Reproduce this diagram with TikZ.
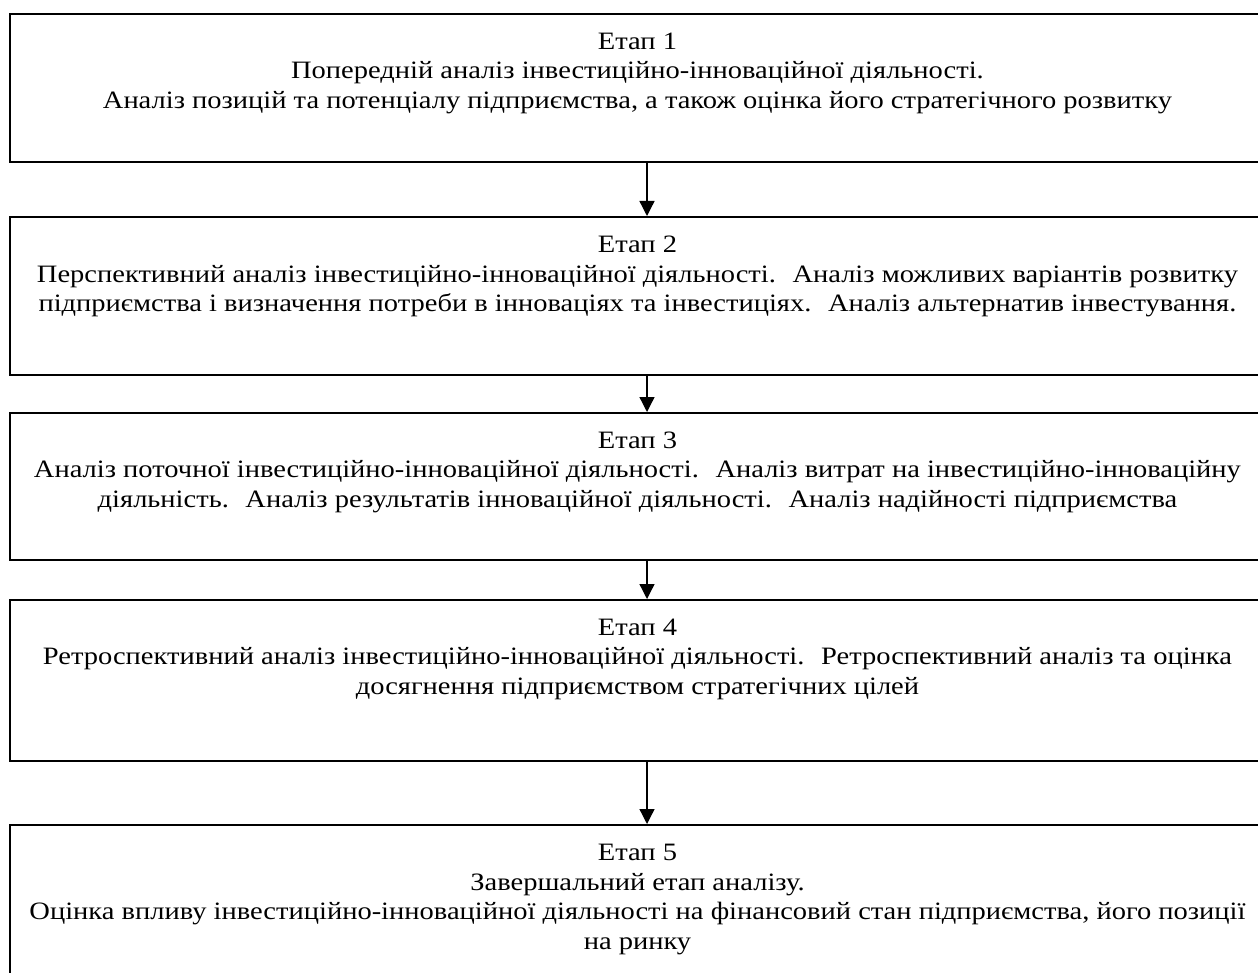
\documentclass[tikz,border=0pt]{standalone}
\usepackage{fontspec}
\setmainfont{Liberation Serif}[FakeStretch=1.14]
\usetikzlibrary{arrows.meta}
\tikzset{
  stagebox/.style={draw=black, line width=2pt, minimum width=1255pt, inner sep=0pt, anchor=north},
  stagetext/.style={align=center, anchor=north, inner sep=0pt, font=\fontsize{25pt}{29.5pt}\selectfont},
  flowarrow/.style={line width=1.3pt, -{Triangle[width=15pt,length=15pt]}}
}
\begin{document}
\begin{tikzpicture}[x=1pt,y=-1pt]
\useasboundingbox (0,0) rectangle (1258,973);
\fill[white] (0,0) rectangle (1258,973);
\node[stagebox, minimum height=148pt] (b1) at (637.5,13) {};
\node[stagebox, minimum height=158pt] (b2) at (637.5,216) {};
\node[stagebox, minimum height=147pt] (b3) at (637.5,412) {};
\node[stagebox, minimum height=161pt] (b4) at (637.5,599) {};
\node[stagebox, minimum height=180pt] (b5) at (637.5,824) {};
\node[stagetext] (t1) at (637.5,32.5) {Етап 1\\Попередній аналіз інвестиційно-інноваційної діяльності.\\Аналіз позицій та потенціалу підприємства, а також оцінка його стратегічного розвитку};
\node[stagetext] (t2) at (637.5,236) {Етап 2\\Перспективний аналіз інвестиційно-інноваційної діяльності.~ Аналіз можливих варіантів розвитку\\підприємства і визначення потреби в інноваціях та інвестиціях.~ Аналіз альтернатив інвестування.};
\node[stagetext] (t3) at (637.5,431.5) {Етап 3\\Аналіз поточної інвестиційно-інноваційної діяльності.~ Аналіз витрат на інвестиційно-інноваційну\\діяльність.~ Аналіз результатів інноваційної діяльності.~ Аналіз надійності підприємства};
\node[stagetext] (t4) at (637.5,618.5) {Етап 4\\Ретроспективний аналіз інвестиційно-інноваційної діяльності.~ Ретроспективний аналіз та оцінка\\досягнення підприємством стратегічних цілей};
\node[stagetext] (t5) at (637.5,844) {Етап 5\\Завершальний етап аналізу.\\Оцінка впливу інвестиційно-інноваційної діяльності на фінансовий стан підприємства, його позиції\\на ринку};
\coordinate (ax) at (647,0);
\draw[flowarrow] (b1.south -| ax) -- (b2.north -| ax);
\draw[flowarrow] (b2.south -| ax) -- (b3.north -| ax);
\draw[flowarrow] (b3.south -| ax) -- (b4.north -| ax);
\draw[flowarrow] (b4.south -| ax) -- (b5.north -| ax);
\end{tikzpicture}
\end{document}
